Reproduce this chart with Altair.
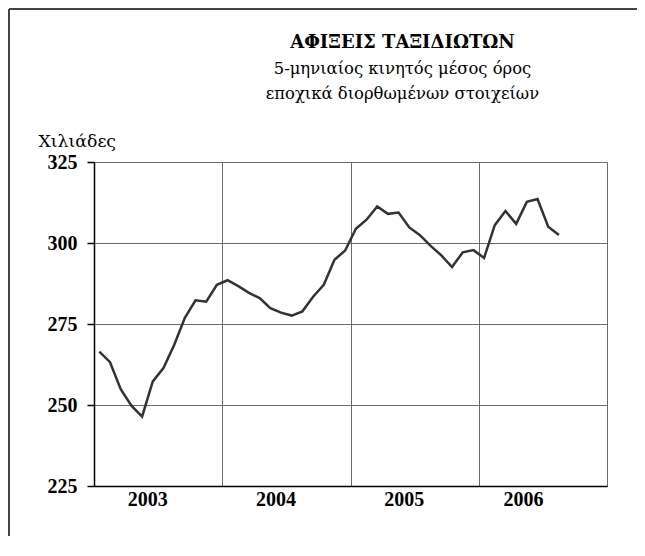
import altair as alt
import pandas as pd

# Data (thousands, 5-month moving average, SA)
start_year = 2003
years = [2003, 2004, 2005, 2006]
arrivals = [
    266.5, 263.2, 254.9, 249.8, 246.4, 257.3, 261.4, 268.5, 276.9, 282.3, 281.9, 287.1,
    288.5, 286.7, 284.6, 283.0, 279.9, 278.5, 277.6, 278.9, 283.4, 287.1, 294.8, 297.7,
    304.4, 307.2, 311.3, 309.0, 309.4, 304.8, 302.4, 299.1, 296.2, 292.6, 297.1, 297.8,
    295.4, 305.5, 309.9, 305.9, 312.7, 313.6, 305.0, 302.5,
]
y_ticks = [225, 250, 275, 300, 325]

title_text = "ΑΦΙΞΕΙΣ ΤΑΞΙΔΙΩΤΩΝ"
subtitle_lines = ["5-μηνιαίος κινητός μέσος όρος", "εποχικά διορθωμένων στοιχείων"]
y_title = "Χιλιάδες"

t = [start_year + (i + 0.5) / 12 for i in range(len(arrivals))]
df = pd.DataFrame({"t": t, "v": arrivals})

x_vals = sorted(years + [y + 0.5 for y in years] + [years[-1] + 1])

FONT = "Liberation Serif"
GREEK_FONT = "DejaVu Serif"
W, H = 513, 324
PAD = {"left": 86, "top": 154, "right": 30, "bottom": 50}

x_enc = alt.X(
    "t:Q",
    scale=alt.Scale(domain=[years[0], years[-1] + 1], nice=False, zero=False),
    axis=alt.Axis(
        values=x_vals,
        labelExpr="datum.value % 1 == 0.5 ? toString(floor(datum.value)) : ''",
        ticks=False,
        grid=True,
        gridColor="#6a6a6a",
        gridWidth=1,
        gridOpacity={"condition": {"test": "datum.value % 1 != 0", "value": 0}, "value": 1},
        domainColor="#000",
        domainWidth=1.5,
        labelFont=FONT,
        labelFontWeight="bold",
        labelFontSize=20,
        labelColor="#000",
        labelPadding=3,
        labelOffset={"condition": {"test": "datum.value == 2006.5", "value": -20}, "value": -11},
        labelOverlap=False,
        labelFlush=False,
        title=None,
    ),
)

y_enc = alt.Y(
    "v:Q",
    scale=alt.Scale(domain=[y_ticks[0], y_ticks[-1]], nice=False, zero=False),
    axis=alt.Axis(
        values=y_ticks,
        tickSize=7,
        tickColor="#000",
        tickWidth=1.5,
        grid=True,
        gridColor="#6a6a6a",
        gridWidth=1,
        domainColor="#000",
        domainWidth=1.5,
        labelFont=FONT,
        labelFontWeight="bold",
        labelFontSize=20,
        labelColor="#000",
        labelPadding=10,
        title=y_title,
        titleFont=GREEK_FONT,
        titleFontWeight="normal",
        titleFontSize=17.3,
        titleColor="#000",
        titleAngle=0,
        titleAlign="left",
        titleBaseline="alphabetic",
        titleX=-56,
        titleY=-16,
    ),
)

line = alt.Chart(df).mark_line(color="#333333", strokeWidth=2.5).encode(x=x_enc, y=y_enc)

frame_src = pd.DataFrame({"k": [0]})
frame_top = alt.Chart(frame_src).mark_rule(color="#444444", strokeWidth=2).encode(
    x=alt.value(-85), x2=alt.value(W + PAD["right"] + 40), y=alt.value(-153)
)
frame_left = alt.Chart(frame_src).mark_rule(color="#444444", strokeWidth=2).encode(
    x=alt.value(-85), y=alt.value(-153), y2=alt.value(H + PAD["bottom"] + 40)
)

chart = alt.layer(frame_top, frame_left, line).properties(
    width=W,
    height=H,
    autosize=alt.AutoSizeParams(type="none"),
    padding=PAD,
    title=alt.TitleParams(
        text=title_text,
        subtitle=subtitle_lines,
        font=GREEK_FONT,
        fontSize=18,
        fontWeight="bold",
        color="#000",
        subtitleFont=GREEK_FONT,
        subtitleFontSize=16.4,
        subtitleColor="#000",
        subtitleLineHeight=25,
        subtitlePadding=9,
        anchor="middle",
        dx=52,
        offset=-94,
    ),
).configure_view(stroke="#000", strokeWidth=1.5).configure(background="white")

chart.save("out.html", embed_options={"renderer": "svg", "actions": False})
